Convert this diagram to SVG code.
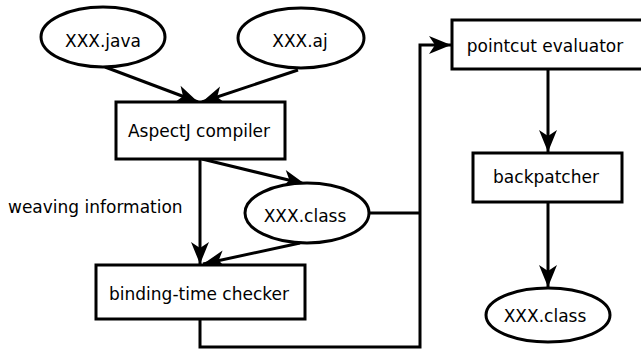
<svg xmlns="http://www.w3.org/2000/svg" width="641" height="356" viewBox="0 0 641 356">
<style>
.n{fill:#fff;stroke:#000;stroke-width:3}
.t{font-family:"DejaVu Sans",sans-serif;font-size:17px;fill:#000;text-anchor:middle}
.c{fill:none;stroke:#000;stroke-width:3}
</style>
<defs>
<marker id="ah" markerUnits="userSpaceOnUse" markerWidth="26" markerHeight="20" viewBox="-24 -10 26 20" refX="0" refY="0" orient="auto">
<path d="M0,0 L-22,-9 L-16,0 L-22,9 Z" fill="#000"/>
</marker>
</defs>
<rect width="641" height="356" fill="#fff"/>
<g id="connectors">
<line class="c" x1="105" y1="67" x2="198" y2="102" marker-end="url(#ah)"/>
<line class="c" x1="298" y1="70" x2="202" y2="102" marker-end="url(#ah)"/>
<line class="c" x1="202" y1="159" x2="305" y2="184" marker-end="url(#ah)"/>
<line class="c" x1="200" y1="159" x2="200" y2="264" marker-end="url(#ah)"/>
<line class="c" x1="300" y1="243" x2="203" y2="264" marker-end="url(#ah)"/>
<polyline class="c" points="200,319 200,347 420,347 420,45 451,45" marker-end="url(#ah)"/>
<line class="c" x1="369" y1="213" x2="420" y2="213"/>
<line class="c" x1="548" y1="69" x2="548" y2="152" marker-end="url(#ah)"/>
<line class="c" x1="548" y1="202" x2="548" y2="287" marker-end="url(#ah)"/>
</g>
<g id="java"><ellipse class="n" cx="103" cy="37" rx="62" ry="30"/><text class="t" x="103" y="47">XXX.java</text></g>
<g id="aj"><ellipse class="n" cx="301" cy="38" rx="63" ry="30"/><text class="t" x="300" y="47">XXX.aj</text></g>
<g id="compiler"><rect class="n" x="116" y="102" width="169" height="57"/><text class="t" x="199" y="137">AspectJ compiler</text></g>
<g id="weaving"><text class="t" x="8" y="213" style="text-anchor:start">weaving information</text></g>
<g id="class1"><ellipse class="n" cx="307" cy="213" rx="62" ry="30"/><text class="t" x="305" y="222">XXX.class</text></g>
<g id="checker"><rect class="n" x="96" y="265" width="209" height="54"/><text class="t" x="199" y="300">binding-time checker</text></g>
<g id="pointcut"><rect class="n" x="452" y="20" width="192" height="49"/><text class="t" x="545" y="52">pointcut evaluator</text></g>
<g id="backpatcher"><rect class="n" x="473" y="153" width="149" height="49"/><text class="t" x="546" y="183">backpatcher</text></g>
<g id="class2"><ellipse class="n" cx="548" cy="315" rx="62" ry="27"/><text class="t" x="545" y="322">XXX.class</text></g>
</svg>
